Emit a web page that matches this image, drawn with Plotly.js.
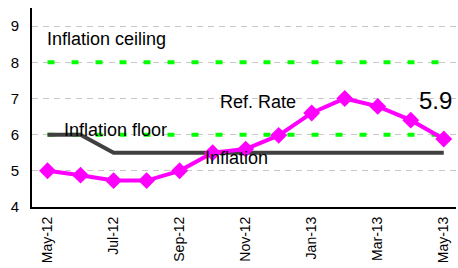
<!DOCTYPE html>
<html>
<head>
<meta charset="utf-8">
<script src="https://cdn.plot.ly/plotly-3.0.1.min.js"></script>
<style>html,body{margin:0;padding:0;background:#fff;}#chart{width:458px;height:268px;}</style>
</head>
<body>
<div id="chart"></div>
<script>
const months = ["May-12","Jun-12","Jul-12","Aug-12","Sep-12","Oct-12","Nov-12","Dec-12","Jan-13","Feb-13","Mar-13","Apr-13","May-13"];
const tickMonths = ["May-12","Jul-12","Sep-12","Nov-12","Jan-13","Mar-13","May-13"];
const inflation = [5.0, 4.88, 4.73, 4.73, 5.0, 5.5, 5.6, 5.98, 6.6, 7.0, 6.78, 6.4, 5.88];
const refRate = [6.0, 6.0, 5.5, 5.5, 5.5, 5.5, 5.5, 5.5, 5.5, 5.5, 5.5, 5.5, 5.5];
const ceiling = months.map(() => 8);
const floor = months.map(() => 6);
const lastValueLabel = "5.9";

const font = "Liberation Sans, Arial, sans-serif";
const traces = [
  {x: months, y: ceiling, mode: "lines", line: {color: "#00ff00", width: 4, dash: "7px,17px"}, hoverinfo: "skip"},
  {x: months, y: floor, mode: "lines", line: {color: "#00ff00", width: 4, dash: "7px,17px"}, hoverinfo: "skip"},
  {x: months, y: refRate, mode: "lines", line: {color: "#404040", width: 4}},
  {x: months, y: inflation, mode: "lines+markers", line: {color: "#ff00ff", width: 4},
   marker: {symbol: "diamond", size: 13, color: "#ff00ff"}}
];
const layout = {
  width: 458, height: 268,
  margin: {l: 32, r: 2, t: 8, b: 61},
  paper_bgcolor: "#fff", plot_bgcolor: "#fff",
  showlegend: false,
  font: {family: font, color: "#000", size: 15},
  xaxis: {
    type: "category", range: [-0.47, 12.37],
    tickmode: "array", tickvals: tickMonths, ticktext: tickMonths,
    tickangle: -90, ticks: "outside", ticklen: 2, tickcolor: "rgba(0,0,0,0)",
    showgrid: false, zeroline: false, automargin: false,
    showline: true, linecolor: "#000", linewidth: 2,
    tickfont: {size: 14, family: font}
  },
  yaxis: {
    range: [4, 9.5], tickvals: [4,5,6,7,8,9],
    ticks: "outside", ticklen: 8, tickcolor: "rgba(0,0,0,0)",
    showgrid: true, gridcolor: "#c8c8c8", gridwidth: 1, griddash: "6px,5px",
    zeroline: false, showline: true, linecolor: "#000", linewidth: 2,
    tickfont: {size: 15, family: font}
  },
  annotations: [
    {x: -0.09, y: 8.64, xref: "x", yref: "y", text: "Inflation ceiling", showarrow: false, xanchor: "left", yanchor: "middle", font: {size: 18, family: font}},
    {x: 0.45, y: 6.13, xref: "x", yref: "y", text: "Inflation floor", showarrow: false, xanchor: "left", yanchor: "middle", font: {size: 18, family: font}},
    {x: 5.15, y: 6.9, xref: "x", yref: "y", text: "Ref. Rate", showarrow: false, xanchor: "left", yanchor: "middle", font: {size: 18, family: font}},
    {x: 4.7, y: 5.36, xref: "x", yref: "y", text: "Inflation", showarrow: false, xanchor: "left", yanchor: "middle", font: {size: 18, family: font}},
    {x: 12.3, y: 6.94, xref: "x", yref: "y", text: lastValueLabel, showarrow: false, xanchor: "right", yanchor: "middle", font: {size: 24, family: font}}
  ]
};
Plotly.newPlot("chart", traces, layout, {staticPlot: true, displayModeBar: false});
</script>
</body>
</html>
